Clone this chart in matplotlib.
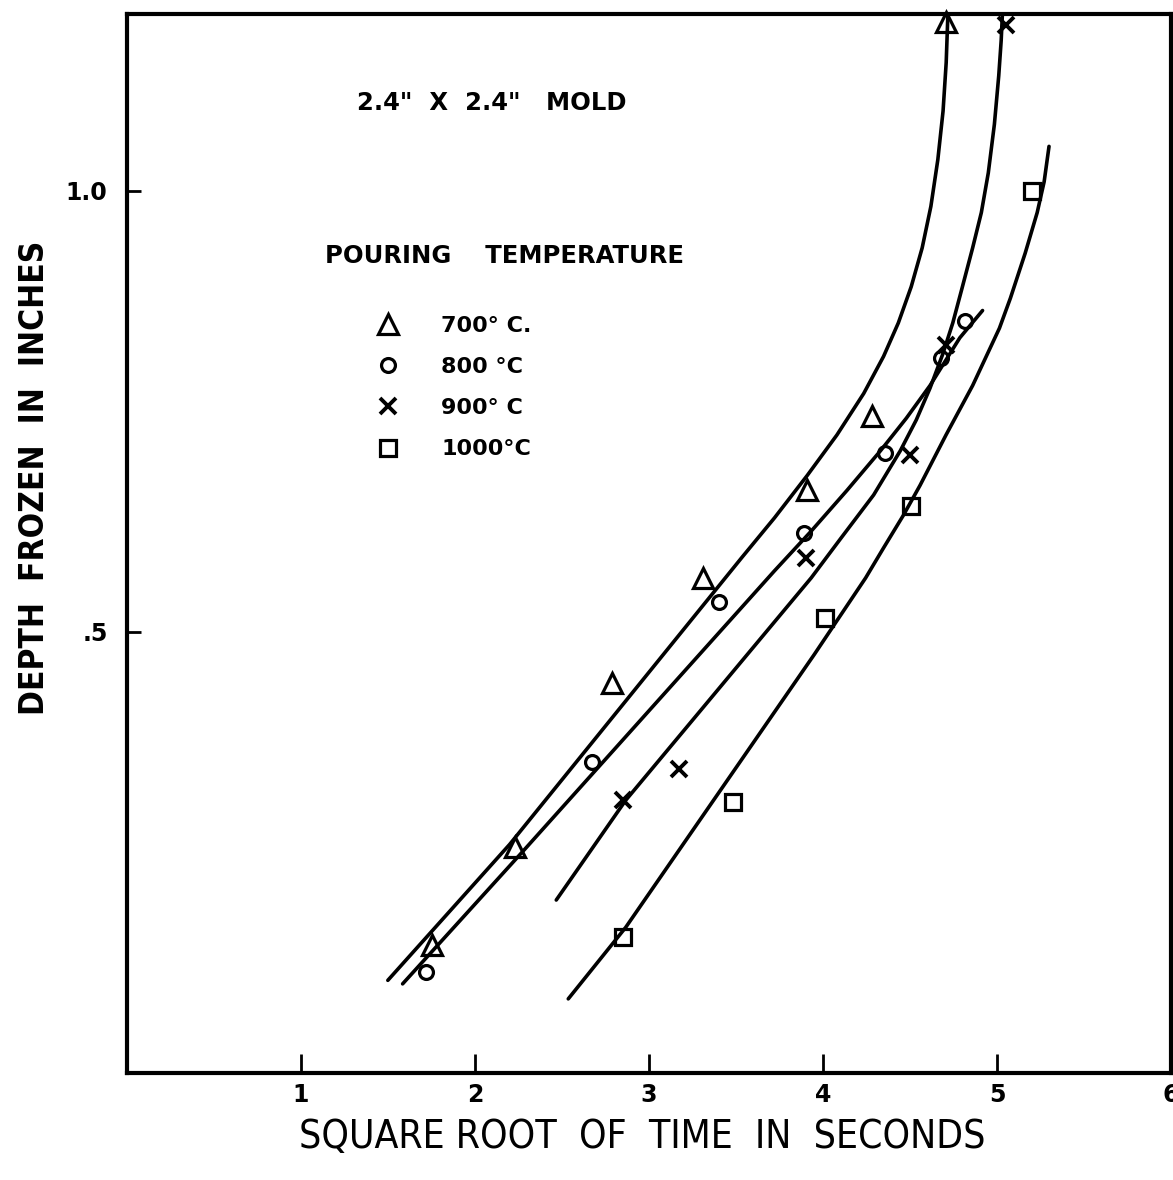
import numpy as np
import matplotlib.pyplot as plt

# measured points (sqrt time, depth frozen)
tri_x = [1.755, 2.228, 2.79, 3.31, 3.909, 4.279, 4.707]
tri_y = [0.145, 0.256, 0.442, 0.561, 0.661, 0.744, 1.191]

circ_x = [1.72, 2.67, 3.40, 3.892, 4.359, 4.678, 4.815]
circ_y = [0.114, 0.352, 0.534, 0.612, 0.702, 0.810, 0.852]

cross_x = [2.85, 3.17, 3.903, 4.501, 4.707, 5.054]
cross_y = [0.309, 0.344, 0.584, 0.700, 0.825, 1.187]

sq_x = [2.85, 3.48, 4.01, 4.507, 5.202]
sq_y = [0.154, 0.307, 0.516, 0.643, 0.999]

# hand drawn curves
curve700_x = [1.499, 2.199, 3.533, 3.721, 3.909, 4.080, 4.234, 4.348, 4.433, 4.507,
              4.570, 4.620, 4.660, 4.690, 4.708, 4.718]
curve700_y = [0.105, 0.259, 0.584, 0.629, 0.677, 0.723, 0.770, 0.812, 0.850, 0.891,
              0.935, 0.982, 1.035, 1.090, 1.145, 1.201]

curve800_x = [1.584, 2.279, 3.721, 3.932, 4.137, 4.330, 4.479, 4.615, 4.786, 4.917]
curve800_y = [0.101, 0.252, 0.569, 0.614, 0.660, 0.705, 0.742, 0.779, 0.833, 0.864]

curve900_x = [2.467, 2.866, 3.932, 4.103, 4.291, 4.444, 4.536, 4.615, 4.689, 4.746,
              4.800, 4.860, 4.910, 4.950, 4.985, 5.010, 5.024, 5.031]
curve900_y = [0.196, 0.309, 0.561, 0.606, 0.655, 0.705, 0.740, 0.776, 0.815, 0.850,
              0.890, 0.935, 0.975, 1.020, 1.075, 1.130, 1.170, 1.200]

curve1000_x = [2.536, 2.866, 3.949, 4.245, 4.348, 4.462, 4.558, 4.707, 4.860, 5.014,
               5.077, 5.162, 5.231, 5.271, 5.299]
curve1000_y = [0.084, 0.165, 0.474, 0.561, 0.595, 0.632, 0.666, 0.723, 0.779, 0.844,
               0.878, 0.929, 0.975, 1.010, 1.050]

legend_labels = ['700\u00b0 C.', '800 \u00b0C', '900\u00b0 C', '1000\u00b0C']
x_ticks = [1, 2, 3, 4, 5, 6]
y_ticks = [0.5, 1.0]
y_ticklabels = ['.5', '1.0']

plt.rcParams['font.family'] = ['DejaVu Sans']
plt.rcParams['font.weight'] = 'bold'

W, H = 1173, 1180
fig = plt.figure(figsize=(W / 100, H / 100), dpi=100)
ax = fig.add_axes([127 / W, 1 - 1073 / H, (1171 - 127) / W, (1073 - 14) / H])

lw = 2.6
for cx, cy in [(curve700_x, curve700_y), (curve800_x, curve800_y),
               (curve900_x, curve900_y), (curve1000_x, curve1000_y)]:
    ax.plot(cx, cy, color='black', lw=lw, solid_capstyle='round', solid_joinstyle='round')

mew = 2.3
h1, = ax.plot(tri_x, tri_y, ls='none', marker='^', ms=15, mew=mew, mfc='none', mec='black', clip_on=False)
h2, = ax.plot(circ_x, circ_y, ls='none', marker='o', ms=10, mew=mew, mfc='none', mec='black', clip_on=False)
h3, = ax.plot(cross_x, cross_y, ls='none', marker='x', ms=11, mew=mew + 0.5, mec='black', clip_on=False)
h4, = ax.plot(sq_x, sq_y, ls='none', marker='s', ms=11, mew=mew, mfc='none', mec='black', clip_on=False)

ax.set_xlim(0, 5.95)
ax.set_ylim(0, 1.2)

ax.set_xticks(x_ticks)
ax.set_xticklabels([str(t) for t in x_ticks], fontsize=17, fontweight='bold')
ax.set_yticks(y_ticks)
ax.set_yticklabels(y_ticklabels, fontsize=17, fontweight='bold')
ax.tick_params(axis='x', direction='in', length=14, width=2, pad=7)
ax.tick_params(axis='y', direction='in', length=10, width=2, pad=14)

for s in ax.spines.values():
    s.set_linewidth(3)

fig.text(642 / W, 1 - 1137 / H, 'SQUARE ROOT  OF  TIME  IN  SECONDS', ha='center', va='center',
         fontsize=28, fontweight='normal', fontstretch='condensed')
fig.text(35 / W, 1 - 478 / H, 'DEPTH  FROZEN  IN  INCHES', ha='center', va='center',
         rotation=90, fontsize=24, fontweight='bold', fontstretch='condensed')

ax.text((492 - 127) / 1044, 1 - (103 - 14) / 1059, '2.4"  X  2.4"   MOLD', transform=ax.transAxes,
        ha='center', va='center', fontsize=17.5, fontweight='bold')
ax.text((325 - 127) / 1044, 1 - (256 - 14) / 1059, 'POURING    TEMPERATURE', transform=ax.transAxes,
        ha='left', va='center', fontsize=17.5, fontweight='bold')

leg = ax.legend([h1, h2, h3, h4], legend_labels, loc='upper left',
                bbox_to_anchor=((377 - 127) / 1044, 1 - (316 - 14) / 1059),
                frameon=False, fontsize=16, handlelength=1.0, handletextpad=1.9,
                labelspacing=0.95, borderpad=0, borderaxespad=0, markerscale=1.0)

fig.savefig('out.png', dpi=100)
